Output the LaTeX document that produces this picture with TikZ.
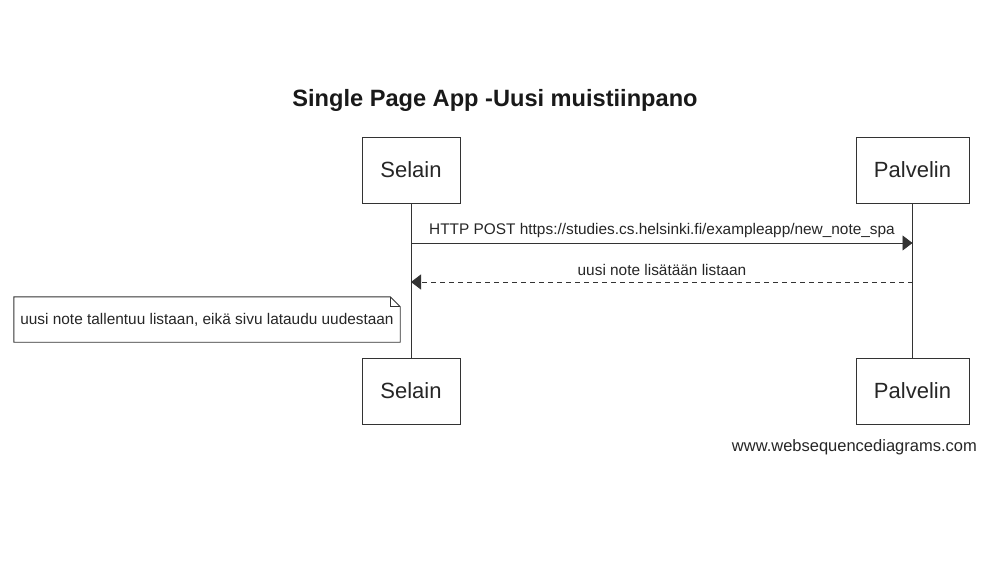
\documentclass[tikz,border=0pt]{standalone}
\usepackage{fontspec}
\setmainfont{Liberation Sans}
\usetikzlibrary{arrows.meta}
\definecolor{ln}{HTML}{333333}
\tikzset{
  actor/.style={draw=ln, line width=0.9pt, fill=white, minimum height=66pt, inner sep=0pt, font=\fontsize{22}{26}\selectfont, text=black!85},
  msg/.style={draw=ln, line width=0.9pt, -{Triangle[length=10pt,width=15pt]}},
  lbl/.style={font=\fontsize{15.4}{18}\selectfont, text=black!85, inner sep=0pt},
  life/.style={draw=ln, line width=0.9pt}
}
\begin{document}
\begin{tikzpicture}[x=1pt,y=-1pt]
\useasboundingbox[fill=white] (0,0) rectangle (986,560);
\node[font=\bfseries\fontsize{23.6}{27}\selectfont, inner sep=0pt, text=black!90] (title) at (495,100) {Single Page App -Uusi muistiinpano};
\node[actor, minimum width=98pt] (selT) at (411,170) {Selain};
\node[actor, minimum width=113pt] (palT) at (912.5,170) {Palvelin};
\node[actor, minimum width=98pt] (selB) at (411,391) {Selain};
\node[actor, minimum width=113pt] (palB) at (912.5,391) {Palvelin};
\draw[life] (selT.south) -- (selB.north);
\draw[life] (palT.south) -- (palB.north);
\coordinate (s1) at (411,243);
\coordinate (p1) at (912.5,243);
\coordinate (s2) at (411,282);
\coordinate (p2) at (912.5,282);
\draw[msg] (s1) -- (p1);
\node[lbl] (l1) at (662,231) {HTTP POST https://studies.cs.helsinki.fi/exampleapp/new\_note\_spa};
\draw[msg, dashed, dash pattern=on 5pt off 4pt] (p2) -- (s2);
\node[lbl] (l2) at (662,270) {uusi note lisätään listaan};
\node[lbl, minimum width=386pt, minimum height=45pt] (note) at (207,319.5) {uusi note tallentuu listaan, eikä sivu lataudu uudestaan};
\draw[draw=ln, line width=0.9pt, fill=none] (note.north west) -- ([xshift=-10pt]note.north east) -- ([yshift=-10pt]note.north east) -- (note.south east) -- (note.south west) -- cycle;
\draw[draw=ln, line width=0.9pt] ([xshift=-10pt]note.north east) -- ([xshift=-10pt,yshift=-10pt]note.north east) -- ([yshift=-10pt]note.north east);
\node[lbl, anchor=east, font=\fontsize{16.5}{19}\selectfont] (wm) at (977,447) {www.websequencediagrams.com};
\end{tikzpicture}
\end{document}
